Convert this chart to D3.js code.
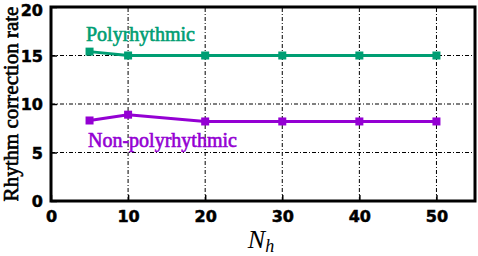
<!DOCTYPE html>
<html><head><meta charset="utf-8">
<script src="https://cdn.jsdelivr.net/npm/d3@7"></script>
<style>body{margin:0;background:#fff}svg{display:block}</style>
</head><body>
<script>
const nh = [5, 10, 20, 30, 40, 50];
const polyrhythmic = [15.4, 15.0, 15.0, 15.0, 15.0, 15.0];
const nonPolyrhythmic = [8.3, 8.9, 8.2, 8.2, 8.2, 8.2];
const xTicks = [0, 10, 20, 30, 40, 50];
const yTicks = [0, 5, 10, 15, 20];

const W = 478, H = 256;
const m = {l: 51, r: 3, t: 7, b: 55};
const svg = d3.select("body").append("svg").attr("width", W).attr("height", H);
const x = d3.scaleLinear().domain([0, 55]).range([m.l, W - m.r]);
const y = d3.scaleLinear().domain([0, 20]).range([H - m.b, m.t]);

// grid
const g = svg.append("g");
g.selectAll(".gx").data(xTicks.filter(d => d > 0)).enter().append("line")
  .attr("x1", d => x(d)).attr("x2", d => x(d)).attr("y1", y(0)).attr("y2", y(20))
  .attr("stroke", "#000").attr("stroke-width", 1).attr("stroke-dasharray", "4,2,1,2");
g.selectAll(".gy").data(yTicks.filter(d => d > 0 && d < 20)).enter().append("line")
  .attr("x1", x(0)).attr("x2", x(55)).attr("y1", d => y(d)).attr("y2", d => y(d))
  .attr("stroke", "#000").attr("stroke-width", 1).attr("stroke-dasharray", "4,2,1,2");

// ticks inward
const xa = d3.axisBottom(x).tickValues(xTicks).tickSize(-6).tickPadding(10);
const ya = d3.axisLeft(y).tickValues(yTicks).tickSize(-6).tickPadding(8);
const gx = svg.append("g").attr("transform", `translate(0,${y(0)})`).call(xa);
const gy = svg.append("g").attr("transform", `translate(${x(0)},0)`).call(ya);
[gx, gy].forEach(a => {
  a.select(".domain").remove();
  a.selectAll("line").attr("stroke-width", 1.5);
  a.selectAll("text").attr("font-family", "DejaVu Sans").attr("font-weight", "bold")
    .attr("font-size", 16).attr("fill", "#000").attr("stroke", "#000").attr("stroke-width", 0.5);
});
gy.selectAll("text").attr("dy", d => d === 20 ? "0.52em" : "0.36em");

// frame
svg.append("rect").attr("x", x(0)).attr("y", y(20)).attr("width", x(55) - x(0)).attr("height", y(0) - y(20))
  .attr("fill", "none").attr("stroke", "#000").attr("stroke-width", 3);

const series = [
  {vals: polyrhythmic, color: "#009e73", label: "Polyrhythmic", lx: 86, ly: 41, ms: 8},
  {vals: nonPolyrhythmic, color: "#9400d3", label: "Non-polyrhythmic", lx: 88, ly: 147, ms: 8}
];
const line = d3.line().x((d, i) => x(nh[i])).y(d => y(d));
series.forEach(s => {
  svg.append("path").datum(s.vals).attr("d", line).attr("fill", "none")
    .attr("stroke", s.color).attr("stroke-width", 3);
  svg.selectAll(null).data(s.vals).enter().append("rect")
    .attr("x", (d, i) => x(nh[i]) - s.ms / 2).attr("y", d => y(d) - s.ms / 2)
    .attr("width", s.ms).attr("height", s.ms).attr("fill", s.color);
  svg.append("text").attr("x", s.lx).attr("y", s.ly).text(s.label)
    .attr("font-family", "Liberation Serif").attr("font-size", 20).attr("fill", s.color)
    .attr("stroke", s.color).attr("stroke-width", 0.6);
});

svg.append("text").attr("transform", `translate(18,104) rotate(-90)`)
  .attr("text-anchor", "middle").attr("font-family", "Liberation Serif").attr("font-size", 21)
  .attr("stroke", "#000").attr("stroke-width", 0.6)
  .text("Rhythm correction rate");

const xl = svg.append("text").attr("x", 261).attr("y", 248).attr("text-anchor", "middle")
  .attr("font-family", "Liberation Serif").attr("font-style", "italic").attr("font-size", 26);
xl.append("tspan").text("N");
xl.append("tspan").attr("font-size", 18).attr("dy", 4).text("h");
</script>
</body></html>
